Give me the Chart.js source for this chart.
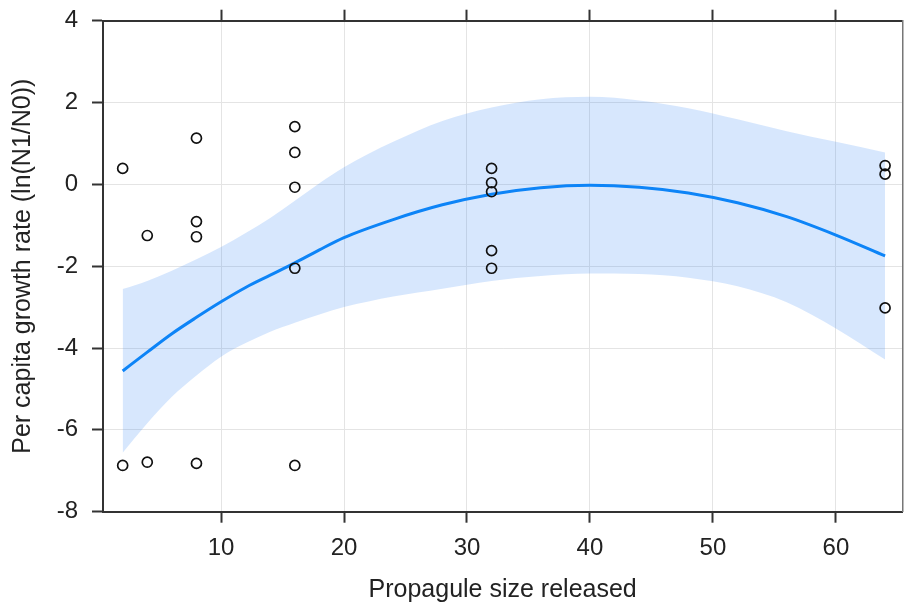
<!DOCTYPE html>
<html>
<head>
<meta charset="utf-8">
<script src="https://cdn.jsdelivr.net/npm/chart.js@4"></script>
<style>
  body { margin: 0; background: #fff; }
  canvas { display: block; }
</style>
</head>
<body>
<canvas id="chart" width="909" height="605"></canvas>
<script>
// Dati
const pointX = [2, 2, 4, 4, 8, 8, 8, 8, 16, 16, 16, 16, 16, 32, 32, 32, 32, 32, 64, 64, 64];
const pointY = [0.39, -6.87, -1.25, -6.79, 1.13, -0.91, -1.28, -6.82, 1.41, 0.78, -0.07, -2.05, -6.87, 0.39, 0.04, -0.18, -1.62, -2.05, 0.46, 0.25, -3.02];

// Curva stimata e banda di confidenza
const fitX = [2, 4, 6, 8, 10, 12, 14, 16, 18, 20, 24, 28, 32, 36, 40, 44, 48, 52, 56, 60, 64];
const fitY = [-4.56, -4.1, -3.65, -3.25, -2.87, -2.52, -2.22, -1.92, -1.6, -1.3, -0.86, -0.5, -0.24, -0.08, -0.02, -0.07, -0.21, -0.45, -0.79, -1.24, -1.75];
const upperY = [-2.56, -2.36, -2.11, -1.83, -1.53, -1.19, -0.82, -0.4, 0.03, 0.42, 1.04, 1.55, 1.88, 2.08, 2.14, 2.05, 1.86, 1.59, 1.3, 1.04, 0.78];
const lowerY = [-6.56, -5.84, -5.19, -4.67, -4.21, -3.88, -3.6, -3.38, -3.18, -3.0, -2.74, -2.55, -2.36, -2.24, -2.18, -2.19, -2.28, -2.49, -2.88, -3.52, -4.28];

const xMin = 0.4, xMax = 65.4;
const yMin = -8, yMax = 4;

const fontFamily = '"Liberation Sans", Arial, sans-serif';
const textColor = '#222';
const axisColor = '#333';
const gridColor = '#e4e4e4';

const toXY = (xs, ys) => xs.map((x, i) => ({ x, y: ys[i] }));

// Fissa le dimensioni degli assi e toglie il margine extra per le etichette
function fixSize(prop, value) {
    return (scale) => {
        scale[prop] = value;
        scale.paddingTop = 0;
        scale.paddingBottom = 0;
        scale.paddingLeft = 0;
        scale.paddingRight = 0;
    };
}

new Chart(document.getElementById('chart'), {
    data: {
        datasets: [
            {
                type: 'scatter',
                data: toXY(pointX, pointY),
                pointRadius: 5,
                pointBorderWidth: 1.7,
                pointBorderColor: '#111',
                pointBackgroundColor: 'rgba(0,0,0,0)'
            },
            {
                type: 'line',
                data: toXY(fitX, fitY),
                borderColor: '#0d84f7',
                borderWidth: 3,
                pointRadius: 0,
                cubicInterpolationMode: 'monotone',
                fill: false
            },
            {
                type: 'line',
                data: toXY(fitX, upperY),
                borderWidth: 0,
                borderColor: 'rgba(0,0,0,0)',
                pointRadius: 0,
                cubicInterpolationMode: 'monotone',
                backgroundColor: 'rgba(40,130,245,0.19)',
                fill: '+1'
            },
            {
                type: 'line',
                data: toXY(fitX, lowerY),
                borderWidth: 0,
                borderColor: 'rgba(0,0,0,0)',
                pointRadius: 0,
                cubicInterpolationMode: 'monotone',
                fill: false
            }
        ]
    },
    options: {
        responsive: false,
        animation: false,
        layout: { padding: 0 },
        plugins: {
            legend: { display: false },
            tooltip: { enabled: false }
        },
        scales: {
            x: {
                type: 'linear',
                position: 'bottom',
                min: xMin,
                max: xMax,
                afterFit: fixSize('height', 93.3),
                ticks: {
                    stepSize: 10,
                    includeBounds: false,
                    padding: 11,
                    color: textColor,
                    font: { family: fontFamily, size: 24 }
                },
                grid: { color: gridColor, lineWidth: 1, tickColor: axisColor, tickLength: 11, tickWidth: 2 },
                border: { color: axisColor, width: 2 },
                title: {
                    display: true,
                    text: 'Propagule size released',
                    color: textColor,
                    font: { family: fontFamily, size: 25 },
                    padding: 0
                }
            },
            xTop: {
                type: 'linear',
                position: 'top',
                min: xMin,
                max: xMax,
                afterFit: fixSize('height', 20.7),
                ticks: { stepSize: 10, includeBounds: false, display: false },
                grid: { drawOnChartArea: false, tickColor: axisColor, tickLength: 11, tickWidth: 2 },
                border: { color: axisColor, width: 2 }
            },
            y: {
                type: 'linear',
                position: 'left',
                min: yMin,
                max: yMax,
                afterFit: fixSize('width', 103),
                ticks: {
                    stepSize: 2,
                    padding: 14,
                    color: textColor,
                    font: { family: fontFamily, size: 24 }
                },
                grid: { color: gridColor, lineWidth: 1, tickColor: axisColor, tickLength: 11, tickWidth: 2 },
                border: { color: axisColor, width: 2 },
                title: {
                    display: true,
                    text: 'Per capita growth rate (ln(N1/N0))',
                    color: textColor,
                    font: { family: fontFamily, size: 25 },
                    padding: { top: 8, bottom: 0 }
                }
            },
            yRight: {
                type: 'linear',
                position: 'right',
                min: yMin,
                max: yMax,
                afterFit: fixSize('width', 1),
                ticks: { display: false },
                grid: { drawOnChartArea: false, drawTicks: false },
                border: { color: '#777', width: 1.5 }
            }
        }
    }
});
</script>
</body>
</html>
